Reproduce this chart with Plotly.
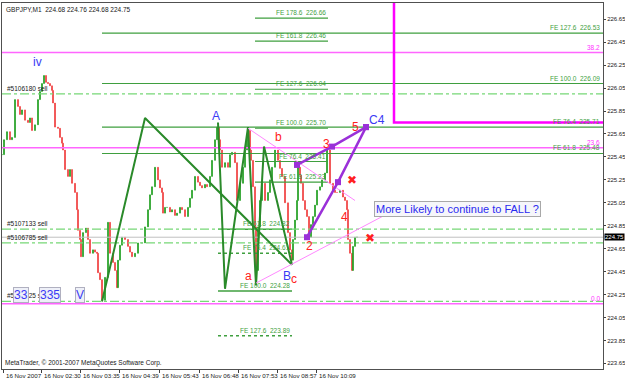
import plotly.graph_objects as go

# ---------------- data (time in bar index, price in JPY) ----------------
bar_idx = [0, 2, 5, 8, 10, 13, 16, 18, 20, 23, 26, 28, 30, 33, 36, 38, 40, 42, 44, 46, 48, 50, 51, 53, 56, 58,
           60, 61, 63, 66, 68, 70, 73, 75, 76, 78, 79, 81, 84, 86, 88, 91, 93, 95, 96, 98, 100, 103, 106, 108,
           111, 113, 115, 116, 118, 120, 123, 126, 128, 130, 133, 136, 140, 143, 146, 148, 150, 153, 156, 158,
           160, 161, 163, 165, 168, 170, 173, 175, 178, 180, 183, 186, 188, 190, 193, 196, 198, 200, 203, 205,
           208, 210, 213, 215, 217, 218, 220, 223, 226, 228, 230, 233, 235, 238, 241, 243, 245, 246, 248, 249,
           251, 253, 254, 256, 258, 260, 263, 266, 268, 270, 273, 276, 278, 280, 283, 286, 288, 290, 291, 293,
           295, 296, 298, 299, 301, 303, 305, 307, 309, 311, 313, 315, 318, 320, 323, 325, 328, 331, 333, 335,
           338, 341, 343, 345, 346, 348, 350, 351, 353, 355]
close = [225.47, 225.60, 225.67, 225.60, 225.62, 225.95, 225.89, 225.82, 225.86, 225.77, 225.75, 225.79, 225.68,
         225.73, 225.95, 226.02, 226.09, 226.16, 226.10, 226.09, 226.07, 226.03, 225.92, 225.71, 225.70, 225.62,
         225.57, 225.51, 225.34, 225.28, 225.34, 225.22, 225.14, 224.99, 224.81, 224.73, 224.58, 224.79, 224.83,
         224.73, 224.61, 224.64, 224.62, 224.61, 224.44, 224.38, 224.20, 224.40, 224.88, 224.61, 224.53, 224.46,
         224.31, 224.55, 224.68, 224.75, 224.73, 224.67, 224.62, 224.58, 224.61, 224.70, 224.70, 224.84, 224.99,
         225.12, 225.19, 225.36, 225.25, 225.18, 225.14, 224.96, 225.01, 225.01, 224.97, 224.99, 224.94, 224.96,
         225.01, 224.99, 224.93, 225.01, 225.09, 225.16, 225.28, 225.23, 225.20, 225.18, 225.21, 225.19, 225.28,
         225.42, 225.60, 225.71, 225.60, 225.51, 225.36, 225.40, 225.36, 225.47, 225.49, 225.40, 225.07, 225.22,
         225.36, 225.51, 225.60, 225.68, 225.51, 225.42, 225.19, 224.84, 224.46, 224.84, 225.07, 225.22, 225.07,
         225.14, 225.25, 225.36, 225.51, 225.42, 225.35, 225.28, 225.05, 224.79, 224.64, 224.55, 224.73, 224.90,
         225.07, 225.36, 225.29, 225.22, 225.07, 224.99, 224.93, 224.75, 224.86, 224.93, 225.03, 225.16, 225.19,
         225.25, 225.31, 225.51, 225.22, 225.16, 225.14, 225.14, 225.16, 225.10, 225.07, 224.99, 224.73, 224.61,
         224.46, 224.67, 224.75, 224.75]

time_tick_bars = [1, 39, 78, 117, 157, 197, 236, 275, 314]
time_tick_labels = ["16 Nov 2007", "16 Nov 02:30", "16 Nov 03:35", "16 Nov 04:39", "16 Nov 05:43",
                    "16 Nov 06:48", "16 Nov 07:53", "16 Nov 08:57", "16 Nov 10:09"]
price_ticks = [223.65, 223.85, 224.05, 224.25, 224.45, 224.65, 224.85, 225.05, 225.25, 225.45,
               225.65, 225.85, 226.05, 226.25, 226.45, 226.65]

# zigzag wave lines
zz_main_x = [100, 143, 290]
zz_main_y = [224.19, 225.79, 224.51]
zz_inner_x = [216, 223, 246, 254, 262, 290]
zz_inner_y = [225.75, 224.30, 225.71, 224.33, 225.54, 224.51]

# thin pink trend lines
tl1_x = [246, 353]
tl1_y = [225.70, 225.07]
tl2_x = [254, 391]
tl2_y = [224.35, 224.98]

# purple projection lines
pur1_x = [295, 330, 364]
pur1_y = [225.38, 225.54, 225.71]
pur2_x = [305, 336, 364]
pur2_y = [224.75, 225.23, 225.71]

# magenta box corner
box_x = [392, 392, 640]
box_y = [227.2, 225.75, 225.75]

# Fibonacci retracement
fib_labels = ["0.0", "23.6", "38.2"]
fib_prices = [224.17, 225.53, 226.36]

# Fibonacci expansions
fe_full_pct = ["127.6", "100.0", "76.4", "61.8"]
fe_full_price = [226.53, 226.09, 225.71, 225.48]
fe_full_span = [100, 601]
fe_up_pct = ["178.6", "161.8", "127.6", "100.0", "76.4", "61.8"]
fe_up_price = [226.66, 226.46, 226.04, 225.70, 225.41, 225.23]
fe_up_span = [253, 326]
fe_low_pct = ["61.8", "76.4", "100.0", "127.6"]
fe_low_price = [224.82, 224.61, 224.28, 223.89]
fe_low_span = [216, 290]

# orders
order_ids = ["#5106180 sell", "#5107133 sell", "#5106785 sell", "#5106325 sell"]
order_prices = [226.00, 224.82, 224.70, 224.19]
bid_price = 224.75
full_span = [0, 601]

# wave labels
blue_lbl = ["iv", "A", "B", "C4"]
blue_x = [35, 214, 285, 375]
blue_y = [226.28, 225.81, 224.41, 225.77]
red_lbl = ["a", "b", "c", "2", "3", "4", "5"]
red_x = [246, 276, 292, 307, 324, 342, 353]
red_y = [224.41, 225.62, 224.39, 224.67, 225.56, 224.93, 225.71]
cross_x = [350, 368]
cross_y = [225.25, 224.74]
box_lbl = ["33", "335", "V"]
box_lbl_x = [19, 48, 78]
box_lbl_y = [224.25, 224.25, 224.25]

GREEN_FE = "#3f9f3f"
DASH_GREEN = "#77d877"
PINK = "#ff66ff"
FONT = "Liberation Sans"

open_ = [close[0]] + close[:-1]
high = [max(o, c) for o, c in zip(open_, close)]
low = [min(o, c) for o, c in zip(open_, close)]

fig = go.Figure()

def hline(x0x1, y, color, width=1, dash="solid"):
    fig.add_trace(go.Scatter(x=x0x1, y=[y, y], mode="lines",
                             line=dict(color=color, width=width, dash=dash),
                             hoverinfo="skip", showlegend=False))

for p in fib_prices:
    hline(full_span, p, PINK, 1.5)
for p in fe_full_price:
    hline(fe_full_span, p, GREEN_FE, 1.2)
for p in fe_up_price:
    hline(fe_up_span, p, GREEN_FE, 1.2)
for i, p in enumerate(fe_low_price):
    hline(fe_low_span, p, GREEN_FE, 1.5, "solid" if i in (0, 2) else "dot")
for p in order_prices:
    hline(full_span, p, DASH_GREEN, 1.3, "dashdot")
hline(full_span, bid_price, "#c0c0c0", 1)

fig.add_trace(go.Candlestick(x=bar_idx, open=open_, high=high, low=low, close=close,
                             increasing=dict(line=dict(color="#23a023", width=1), fillcolor="#23a023"),
                             decreasing=dict(line=dict(color="#f04040", width=1), fillcolor="#f04040"),
                             whiskerwidth=0, hoverinfo="skip", showlegend=False))

fig.add_trace(go.Scatter(x=zz_main_x, y=zz_main_y, mode="lines",
                         line=dict(color="#2a8a2a", width=2), showlegend=False, hoverinfo="skip"))
fig.add_trace(go.Scatter(x=zz_inner_x, y=zz_inner_y, mode="lines",
                         line=dict(color="#2a8a2a", width=2), showlegend=False, hoverinfo="skip"))
for tx, ty in ((tl1_x, tl1_y), (tl2_x, tl2_y)):
    fig.add_trace(go.Scatter(x=tx, y=ty, mode="lines", line=dict(color="#ff88ff", width=1),
                             showlegend=False, hoverinfo="skip"))
for px, py in ((pur1_x, pur1_y), (pur2_x, pur2_y)):
    fig.add_trace(go.Scatter(x=px, y=py, mode="lines+markers",
                             line=dict(color="#9a30d8", width=2.5),
                             marker=dict(symbol="square", size=6, color="#9a30d8"),
                             showlegend=False, hoverinfo="skip"))
fig.add_trace(go.Scatter(x=box_x, y=box_y, mode="lines", line=dict(color="#ff00ff", width=2.5),
                         showlegend=False, hoverinfo="skip"))

ann = []
def text(x, y, t, color, size, xanchor="center", yanchor="middle", **kw):
    ann.append(dict(x=x, y=y, text=t, showarrow=False, xanchor=xanchor, yanchor=yanchor,
                    font=dict(family=FONT, size=size, color=color), **kw))

for lbl, p in zip(fib_labels, fib_prices):
    text(600, p, lbl, "#ff33ff", 6.5, "right", "bottom")
for pct, p in zip(fe_full_pct, fe_full_price):
    text(600, p, f"FE {pct}&nbsp;&nbsp;{p:.2f}", GREEN_FE, 6.5, "right", "bottom")
for pct, p in zip(fe_up_pct, fe_up_price):
    text(fe_up_span[1], p, f"FE {pct}&nbsp;&nbsp;{p:.2f}", GREEN_FE, 6.5, "right", "bottom")
for pct, p in zip(fe_low_pct, fe_low_price):
    text(fe_low_span[1], p, f"FE {pct}&nbsp;&nbsp;{p:.2f}", GREEN_FE, 6.5, "right", "bottom")
for oid, p in zip(order_ids, order_prices):
    text(3, p, oid, "#202020", 6.5, "left", "bottom")

for l, x, y in zip(blue_lbl, blue_x, blue_y):
    text(x, y, l, "#3a3af5", 12)
for l, x, y in zip(red_lbl, red_x, red_y):
    text(x, y, l, "#ff2020", 12)
for x, y in zip(cross_x, cross_y):
    text(x, y, "✖", "#ff2020", 12)
for l, x, y in zip(box_lbl, box_lbl_x, box_lbl_y):
    text(x, y, l, "#3a3af5", 12, bordercolor="#b0b0c0", bgcolor="#eef0f8", borderpad=0)

text(372, 224.995, "More Likely to continue to FALL ?", "#2a2af0", 11, "left",
     bordercolor="#a8a8a8", bgcolor="#f6f6fa", borderpad=1)

# time labels (left-aligned after each tick, MetaTrader style)
for tb, tl in zip(time_tick_bars, time_tick_labels):
    ann.append(dict(x=tb, xref="x", y=0, yref="paper", xanchor="left", yanchor="top", yshift=-1, xshift=1,
                    text=tl, showarrow=False, font=dict(family=FONT, size=6.2, color="#202020")))

ann.append(dict(xref="paper", yref="paper", x=0, y=1, xanchor="left", yanchor="top", xshift=2, yshift=-1,
                text="GBPJPY,M1&nbsp;&nbsp;224.68 224.76 224.68 224.75", showarrow=False,
                font=dict(family=FONT, size=6.5, color="#202020")))
ann.append(dict(xref="paper", yref="paper", x=0, y=0, xanchor="left", yanchor="bottom", xshift=1, yshift=0,
                text="MetaTrader, © 2001-2007 MetaQuotes Software Corp.", showarrow=False,
                font=dict(family=FONT, size=6.5, color="#202020")))
ann.append(dict(xref="paper", yref="y", x=1, y=bid_price, xanchor="left", yanchor="middle", xshift=1,
                text=f"{bid_price:.2f}", showarrow=False, bgcolor="#000000", borderpad=0,
                font=dict(family=FONT, size=6, color="#ffffff")))

fig.update_layout(
    width=625, height=380,
    margin=dict(l=2, r=22, t=3, b=11),
    paper_bgcolor="#ffffff", plot_bgcolor="#ffffff",
    showlegend=False,
    annotations=ann,
    xaxis=dict(range=[0, 601], showgrid=False, zeroline=False, rangeslider=dict(visible=False),
               tickmode="array", tickvals=time_tick_bars, showticklabels=False,
               ticks="outside", ticklen=3, tickcolor="#404040",
               showline=True, linecolor="#505050", linewidth=1, mirror=True, automargin=False),
    yaxis=dict(range=[223.601, 226.792], side="right", showgrid=False, zeroline=False,
               tickmode="array", tickvals=price_ticks, ticktext=[f"{v:.2f}" for v in price_ticks],
               ticks="outside", ticklen=2, tickcolor="#404040", ticklabelstandoff=0,
               tickfont=dict(family=FONT, size=6, color="#202020"),
               showline=True, linecolor="#505050", linewidth=1, mirror=True, automargin=False),
)

fig.write_html("out.html")
